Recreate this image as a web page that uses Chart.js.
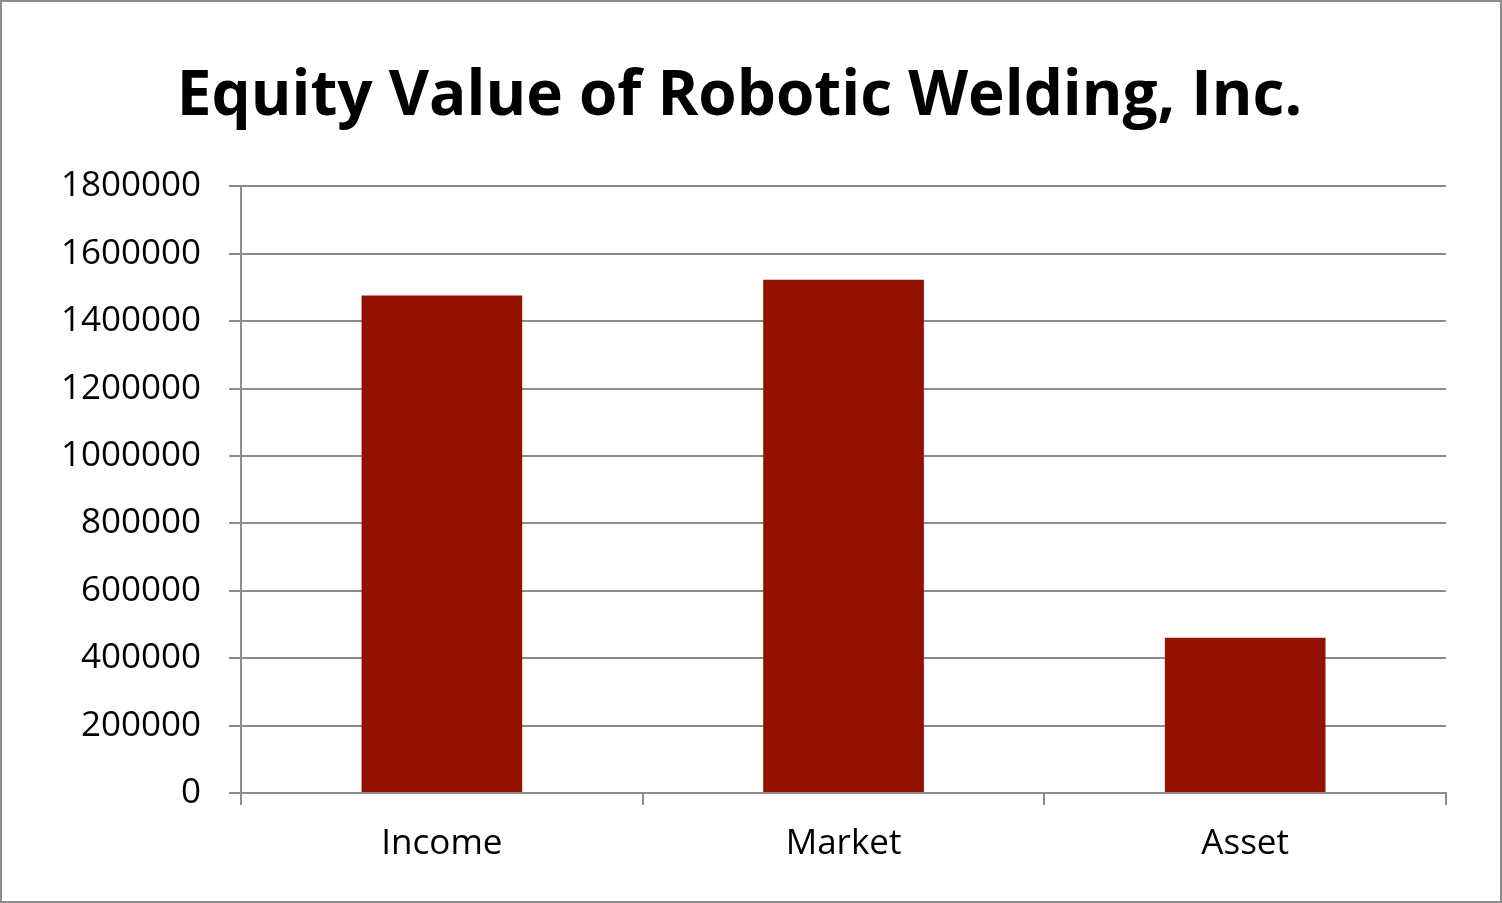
<!DOCTYPE html>
<html>
<head>
<meta charset="utf-8">
<script src="https://cdn.jsdelivr.net/npm/chart.js@4"></script>
<style>
  body { margin: 0; background: #fff; }
  #wrap { width: 1498px; height: 899px; border: 2px solid #8c8c8c; }
</style>
</head>
<body>
<div id="wrap"><canvas id="chart" width="1498" height="899"></canvas></div>
<script>
// Equity value by approach
const categories = ["Income", "Market", "Asset"];
const equityValues = [1476000, 1523000, 461000];
const yMax = 1800000;
const yStep = 200000;

const gridColor = "#8c8c8c";

new Chart(document.getElementById("chart"), {
  type: "bar",
  data: {
    labels: categories,
    datasets: [{
      data: equityValues,
      backgroundColor: "#941100",
      barPercentage: 0.4,
      categoryPercentage: 1
    }]
  },
  options: {
    responsive: false,
    animation: false,
    layout: { padding: { top: 58, left: 31, right: 54, bottom: 18 } },
    plugins: {
      legend: { display: false },
      tooltip: { enabled: false },
      title: {
        display: true,
        text: "Equity Value of Robotic Welding, Inc.",
        color: "#000",
        font: { family: "Open Sans", size: 62, weight: "bold" },
        padding: { top: 0, bottom: 52 }
      }
    },
    scales: {
      y: {
        min: 0,
        max: yMax,
        ticks: {
          stepSize: yStep,
          color: "#000",
          font: { family: "Open Sans", size: 35 },
          padding: 28,
          callback: v => String(v)
        },
        grid: { color: gridColor, lineWidth: 2, tickLength: 12 },
        border: { color: gridColor, width: 2 }
      },
      x: {
        ticks: {
          color: "#000",
          font: { family: "Open Sans", size: 35 },
          padding: 18
        },
        grid: { display: true, drawOnChartArea: false, color: gridColor, lineWidth: 2, tickLength: 12, offset: true },
        border: { color: gridColor, width: 2 }
      }
    }
  }
});
</script>
</body>
</html>
